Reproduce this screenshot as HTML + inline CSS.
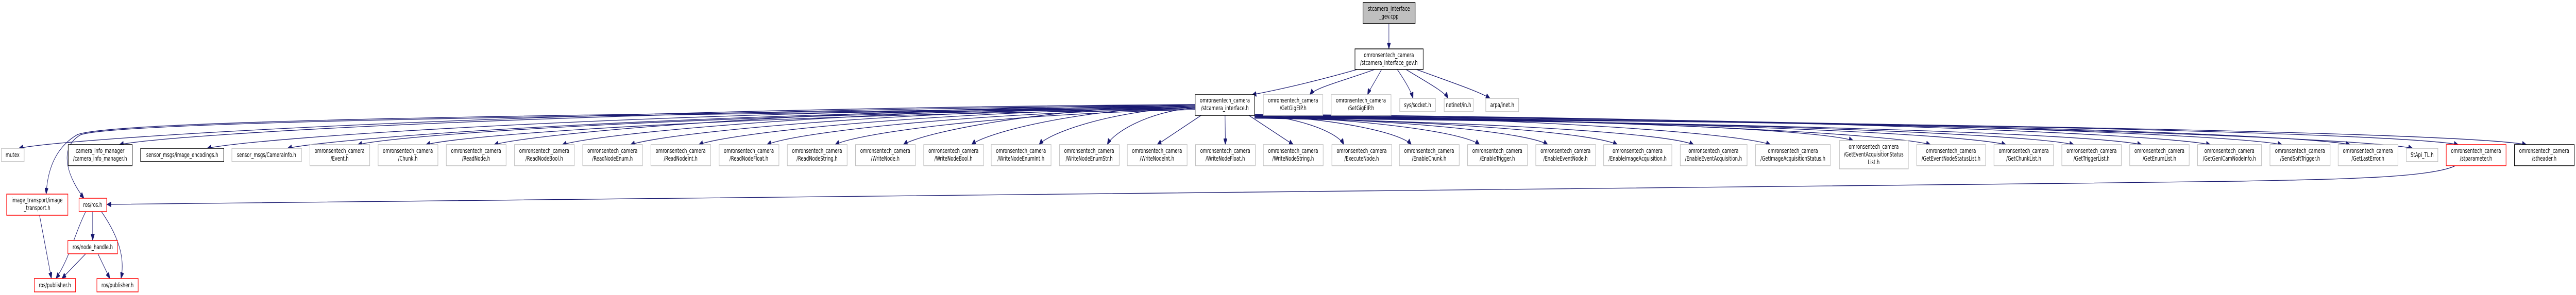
<!DOCTYPE html>
<html><head><meta charset="utf-8">
<meta name="viewport" content="width=7365">
<style>
html,body{margin:0;padding:0;background:#fff;overflow:hidden;width:100vw;height:100vh;}
svg{display:block;width:100vw;height:100vh;}
text{font-family:"DejaVu Sans","Liberation Sans",sans-serif;font-size:12.5px;fill:#000;text-anchor:middle;}
.g{fill:#fff;stroke:#bfbfbf;stroke-width:1.5;}
.k{fill:#fff;stroke:#000;stroke-width:1.5;}
.r{fill:#fff;stroke:#ff0000;stroke-width:1.5;}
.e{fill:none;stroke:#191970;stroke-width:1.3;}
</style></head>
<body>
<svg id="s" viewBox="0 0 7365 573" preserveAspectRatio="none" xmlns="http://www.w3.org/2000/svg">
<defs>
<marker id="a" markerUnits="userSpaceOnUse" markerWidth="13" markerHeight="10" refX="12" refY="5" orient="auto">
<path d="M0,0 L12,5 L0,10 z" fill="#191970" stroke="#191970"/>
</marker>
</defs>
<g id="edges"></g>
<g id="nodes">
<rect x="3897" y="5" width="149" height="41" fill="#bfbfbf" stroke="#000" stroke-width="1.5"/>
<text x="3971" y="21">stcamera_interface</text><text x="3971" y="36">_gev.cpp</text>

<rect class="k" x="3874" y="95" width="195" height="40"/>
<text x="3971" y="111">omronsentech_camera</text><text x="3971" y="126">/stcamera_interface_gev.h</text>

<rect class="k" x="3417" y="184" width="170" height="40"/>
<text x="3502" y="199">omronsentech_camera</text><text x="3502" y="214">/stcamera_interface.h</text>
<rect class="g" x="3612" y="184" width="170" height="40"/>
<text x="3697" y="199">omronsentech_camera</text><text x="3697" y="214">/GetGigEIP.h</text>
<rect class="g" x="3806" y="184" width="171" height="40"/>
<text x="3891" y="199">omronsentech_camera</text><text x="3891" y="214">/SetGigEIP.h</text>
<rect class="g" x="4002" y="191" width="102" height="26"/><text x="4053" y="208">sys/socket.h</text>
<rect class="g" x="4129" y="191" width="83" height="26"/><text x="4170" y="208">netinet/in.h</text>
<rect class="g" x="4248" y="191" width="94" height="26"/><text x="4295" y="208">arpa/inet.h</text>

<rect class="g" x="4" y="288" width="65" height="26"/><text x="36" y="305">mutex</text>
<rect class="k" x="195" y="281" width="183" height="41"/>
<text x="286" y="297">camera_info_manager</text><text x="286" y="312">/camera_info_manager.h</text>
<rect class="k" x="402" y="288" width="238" height="26"/><text x="521" y="305">sensor_msgs/image_encodings.h</text>
<rect class="g" x="663" y="288" width="199" height="26"/><text x="762" y="305">sensor_msgs/CameraInfo.h</text>

<rect class="g" x="886" y="281" width="171" height="41"/><text x="971" y="297">omronsentech_camera</text><text x="971" y="312">/Event.h</text>
<rect class="g" x="1081" y="281" width="171" height="41"/><text x="1166" y="297">omronsentech_camera</text><text x="1166" y="312">/Chunk.h</text>
<rect class="g" x="1276" y="281" width="171" height="41"/><text x="1361" y="297">omronsentech_camera</text><text x="1361" y="312">/ReadNode.h</text>
<rect class="g" x="1471" y="281" width="171" height="41"/><text x="1556" y="297">omronsentech_camera</text><text x="1556" y="312">/ReadNodeBool.h</text>
<rect class="g" x="1666" y="281" width="171" height="41"/><text x="1751" y="297">omronsentech_camera</text><text x="1751" y="312">/ReadNodeEnum.h</text>
<rect class="g" x="1861" y="281" width="171" height="41"/><text x="1946" y="297">omronsentech_camera</text><text x="1946" y="312">/ReadNodeInt.h</text>
<rect class="g" x="2056" y="281" width="171" height="41"/><text x="2141" y="297">omronsentech_camera</text><text x="2141" y="312">/ReadNodeFloat.h</text>
<rect class="g" x="2251" y="281" width="171" height="41"/><text x="2336" y="297">omronsentech_camera</text><text x="2336" y="312">/ReadNodeString.h</text>
<rect class="g" x="2446" y="281" width="171" height="41"/><text x="2531" y="297">omronsentech_camera</text><text x="2531" y="312">/WriteNode.h</text>
<rect class="g" x="2641" y="281" width="171" height="41"/><text x="2726" y="297">omronsentech_camera</text><text x="2726" y="312">/WriteNodeBool.h</text>
<rect class="g" x="2834" y="281" width="171" height="41"/><text x="2919" y="297">omronsentech_camera</text><text x="2919" y="312">/WriteNodeEnumInt.h</text>
<rect class="g" x="3029" y="281" width="171" height="41"/><text x="3114" y="297">omronsentech_camera</text><text x="3114" y="312">/WriteNodeEnumStr.h</text>
<rect class="g" x="3223" y="281" width="171" height="41"/><text x="3308" y="297">omronsentech_camera</text><text x="3308" y="312">/WriteNodeInt.h</text>
<rect class="g" x="3418" y="281" width="171" height="41"/><text x="3503" y="297">omronsentech_camera</text><text x="3503" y="312">/WriteNodeFloat.h</text>
<rect class="g" x="3612" y="281" width="171" height="41"/><text x="3697" y="297">omronsentech_camera</text><text x="3697" y="312">/WriteNodeString.h</text>
<rect class="g" x="3808" y="281" width="171" height="41"/><text x="3893" y="297">omronsentech_camera</text><text x="3893" y="312">/ExecuteNode.h</text>
<rect class="g" x="4001" y="281" width="171" height="41"/><text x="4086" y="297">omronsentech_camera</text><text x="4086" y="312">/EnableChunk.h</text>
<rect class="g" x="4196" y="281" width="171" height="41"/><text x="4281" y="297">omronsentech_camera</text><text x="4281" y="312">/EnableTrigger.h</text>
<rect class="g" x="4391" y="281" width="171" height="41"/><text x="4476" y="297">omronsentech_camera</text><text x="4476" y="312">/EnableEventNode.h</text>
<rect class="g" x="4585" y="281" width="195" height="41"/><text x="4682" y="297">omronsentech_camera</text><text x="4682" y="312">/EnableImageAcquisition.h</text>
<rect class="g" x="4804" y="281" width="191" height="41"/><text x="4899" y="297">omronsentech_camera</text><text x="4899" y="312">/EnableEventAcquisition.h</text>
<rect class="g" x="5019" y="281" width="214" height="41"/><text x="5126" y="297">omronsentech_camera</text><text x="5126" y="312">/GetImageAcquisitionStatus.h</text>
<rect class="g" x="5259" y="273" width="197" height="55"/><text x="5357" y="289">omronsentech_camera</text><text x="5357" y="304">/GetEventAcquisitionStatus</text><text x="5357" y="319">List.h</text>
<rect class="g" x="5480" y="281" width="197" height="41"/><text x="5578" y="297">omronsentech_camera</text><text x="5578" y="312">/GetEventNodeStatusList.h</text>
<rect class="g" x="5701" y="281" width="170" height="41"/><text x="5786" y="297">omronsentech_camera</text><text x="5786" y="312">/GetChunkList.h</text>
<rect class="g" x="5895" y="281" width="170" height="41"/><text x="5980" y="297">omronsentech_camera</text><text x="5980" y="312">/GetTriggerList.h</text>
<rect class="g" x="6089" y="281" width="170" height="41"/><text x="6174" y="297">omronsentech_camera</text><text x="6174" y="312">/GetEnumList.h</text>
<rect class="g" x="6283" y="281" width="183" height="41"/><text x="6374" y="297">omronsentech_camera</text><text x="6374" y="312">/GetGenICamNodeInfo.h</text>
<rect class="g" x="6490" y="281" width="172" height="41"/><text x="6576" y="297">omronsentech_camera</text><text x="6576" y="312">/SendSoftTrigger.h</text>
<rect class="g" x="6685" y="281" width="171" height="41"/><text x="6770" y="297">omronsentech_camera</text><text x="6770" y="312">/GetLastError.h</text>
<rect class="g" x="6880" y="288" width="90" height="26"/><text x="6925" y="305">StApi_TL.h</text>
<rect class="r" x="6994" y="281" width="171" height="41"/><text x="7079" y="297">omronsentech_camera</text><text x="7079" y="312">/stparameter.h</text>
<rect class="k" x="7189" y="281" width="171" height="41"/><text x="7274" y="297">omronsentech_camera</text><text x="7274" y="312">/stheader.h</text>

<rect class="r" x="19" y="377" width="175" height="41"/><text x="106" y="393">image_transport/image</text><text x="106" y="408">_transport.h</text>
<rect class="r" x="226" y="385" width="79" height="26"/><text x="265" y="402">ros/ros.h</text>
<rect class="r" x="194" y="467" width="142" height="26"/><text x="265" y="484">ros/node_handle.h</text>
<rect class="r" x="98" y="541" width="118" height="26"/><text x="157" y="558">ros/publisher.h</text>
<rect class="r" x="277" y="541" width="118" height="26"/><text x="336" y="558">ros/publisher.h</text>
</g>
</svg>
<script>
(function(){
var g=document.getElementById('edges');
function P(d){var p=document.createElementNS('http://www.w3.org/2000/svg','path');p.setAttribute('d',d);p.setAttribute('class','e');p.setAttribute('marker-end','url(#a)');g.appendChild(p);}
P('M3971,46 L3971,95');
P('M3880,135 C3750,160 3650,175 3580,184');
P('M3930,135 C3850,155 3760,170 3745,184');
P('M3950,135 C3930,160 3915,175 3910,184');
P('M3995,135 C4020,160 4035,178 4040,191');
P('M4020,135 C4080,160 4130,178 4140,191');
P('M4050,135 C4150,160 4230,178 4260,191');
var T=[[4,69,288],[195,378,281],[402,640,288],[663,862,288],[886,1057,281],[1081,1252,281],[1276,1447,281],[1471,1642,281],[1666,1837,281],[1861,2032,281],[2056,2227,281],[2251,2422,281],[2446,2617,281],[2641,2812,281],[2834,3005,281],[3029,3200,281],[3223,3394,281],[3418,3589,281],[3612,3783,281],[3808,3979,281],[4001,4172,281],[4196,4367,281],[4391,4562,281],[4585,4780,281],[4804,4995,281],[5019,5233,281],[5259,5456,273],[5480,5677,281],[5701,5871,281],[5895,6065,281],[6089,6259,281],[6283,6466,281],[6490,6662,281],[6685,6856,281],[6880,6970,288],[6994,7165,281],[7189,7360,281]];
var li=0,ri=0;
T.forEach(function(t){
  var cx=(t[0]+t[1])/2,ty=t[2],tx,sy,sx,d;
  if(cx<3300){
    tx=Math.min(t[1]-15,cx+(t[1]-t[0])*0.3);
    sy=203+(li%6)*2;li++;
    sx=3417;d=sx-tx;
    P('M'+sx+','+sy+' C'+(tx+d*0.45)+','+(sy+8)+' '+(tx+Math.min(d*0.06,160))+','+(ty-22)+' '+tx+','+ty);
  } else if(cx>3700){
    tx=Math.max(t[0]+15,cx-(t[1]-t[0])*0.3);
    sy=222+(ri%6)*1.5;ri++;
    sx=3587;d=tx-sx;
    P('M'+sx+','+sy+' C'+(tx-d*0.45)+','+(sy+8)+' '+(tx-Math.min(d*0.06,160))+','+(ty-22)+' '+tx+','+ty);
  } else {
    sx=3502+(cx-3502)*0.35;
    P('M'+sx+',224 L'+cx+','+ty);
  }
});
P('M3417,209 C1500,222 300,235 220,262 C150,290 135,340 132,377');
P('M3417,211 C1500,224 320,238 230,262 C160,290 200,350 240,385');
P('M245,411 C210,460 200,500 160,541');
P('M265,411 L265,467');
P('M290,411 C350,470 355,510 346,541');
P('M113,418 L147,541');
P('M245,493 L177,541');
P('M280,493 L314,541');
P('M7020,322 C6950,345 6700,348 6400,352 C4000,372 1500,396 306,397');
})();
</script>
</body></html>
